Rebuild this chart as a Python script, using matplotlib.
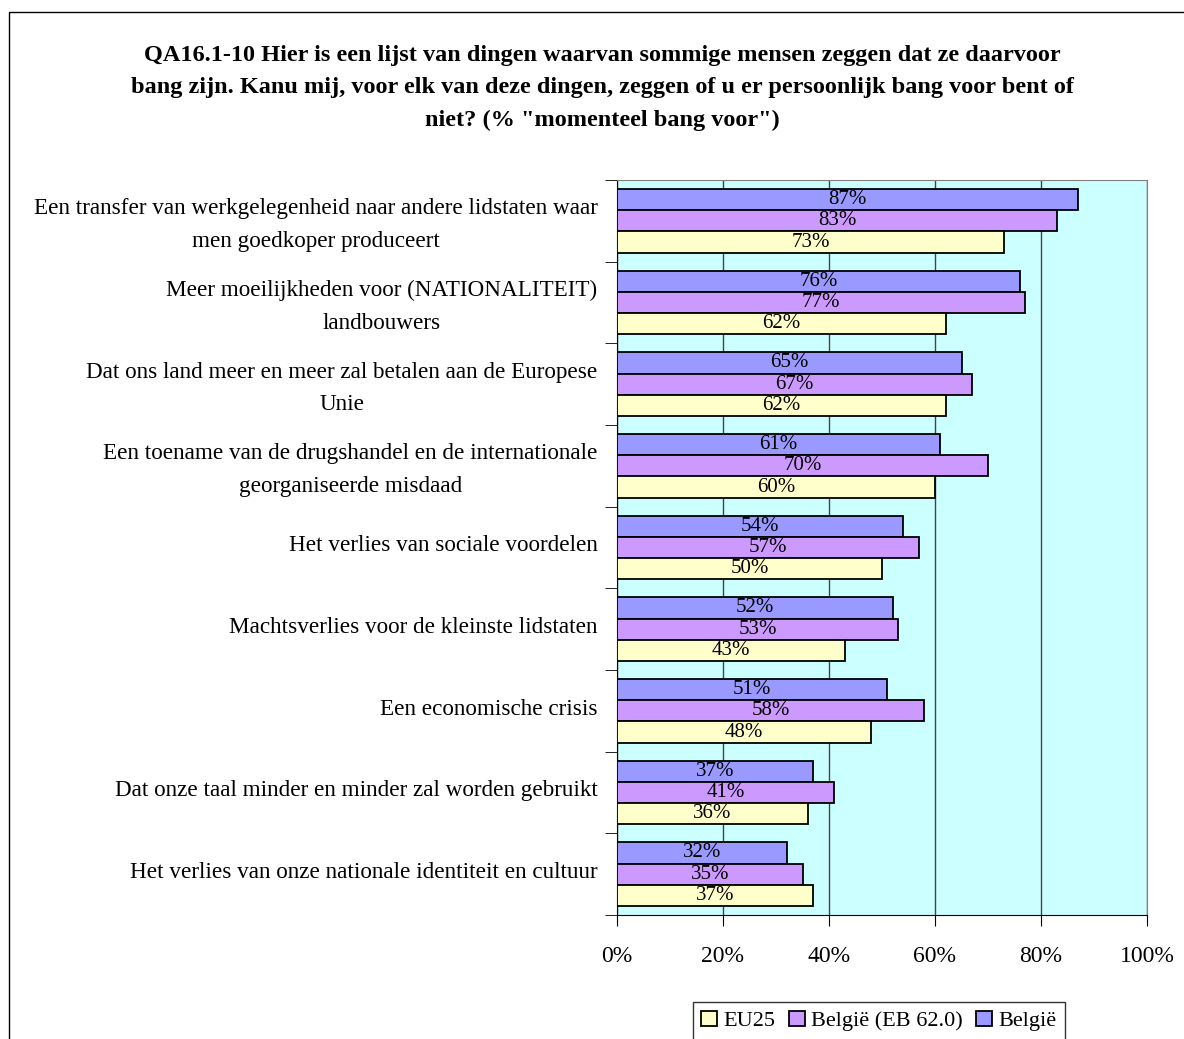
import matplotlib.pyplot as plt
import numpy as np
from matplotlib.patches import Rectangle

plt.rcParams['font.family'] = ['Liberation Serif', 'DejaVu Serif']

categories = [
    "Een transfer van werkgelegenheid naar andere lidstaten waar\nmen goedkoper produceert",
    "Meer moeilijkheden voor (NATIONALITEIT)\nlandbouwers",
    "Dat ons land meer en meer zal betalen aan de Europese\nUnie",
    "Een toename van de drugshandel en de internationale\ngeorganiseerde misdaad",
    "Het verlies van sociale voordelen",
    "Machtsverlies voor de kleinste lidstaten",
    "Een economische crisis",
    "Dat onze taal minder en minder zal worden gebruikt",
    "Het verlies van onze nationale identiteit en cultuur",
]
belgie = [87, 76, 65, 61, 54, 52, 51, 37, 32]
belgie_eb62 = [83, 77, 67, 70, 57, 53, 58, 41, 35]
eu25 = [73, 62, 62, 60, 50, 43, 48, 36, 37]

title = ("QA16.1-10 Hier is een lijst van dingen waarvan sommige mensen zeggen dat ze daarvoor\n"
         "bang zijn. Kanu mij, voor elk van deze dingen, zeggen of u er persoonlijk bang voor bent of\n"
         "niet? (% \"momenteel bang voor\")")

fig = plt.figure(figsize=(11.84, 10.39), dpi=100)
fig.patches.append(Rectangle((9 / 1184, -0.1), 1.2, 1 - 12 / 1039 + 0.1, transform=fig.transFigure,
                             fill=False, edgecolor='black', linewidth=1))
fig.text(602 / 1184, 1 - 88 / 1039, title, ha='center', va='center', fontsize=17.5,
         fontweight='bold', linespacing=1.72)

ax = fig.add_axes([617 / 1184, 1 - 915 / 1039, 530 / 1184, 735 / 1039])
ax.set_facecolor('#CCFFFF')

n = len(categories)
y = np.arange(n)[::-1].astype(float)
h = 0.26
series = [(belgie, '#9999FF', 'België', h), (belgie_eb62, '#CC99FF', 'België (EB 62.0)', 0),
          (eu25, '#FFFFCC', 'EU25', -h)]
handles = {}
for vals, col, lab, off in series:
    bars = ax.barh(y + off, vals, height=h, color=col, edgecolor='black', linewidth=1.3, label=lab,
                   zorder=3)
    handles[lab] = bars
    for v, yy in zip(vals, y + off):
        ax.text(v / 2, yy, f"{v}%", ha='center', va='center', fontsize=15, zorder=4)

ax.set_xlim(0, 100)
ax.set_ylim(-0.5, n - 0.5)
ax.set_xticks(range(0, 101, 20))
ax.set_xticklabels([f"{t}%" for t in range(0, 101, 20)], fontsize=17)
ax.tick_params(axis='x', length=8, pad=14, color='black')
ax.set_yticks(y + 0.05)
ax.set_yticklabels(categories, fontsize=16.7, multialignment='center', linespacing=1.72)
ax.tick_params(axis='y', which='major', length=0, pad=14)
ax.set_yticks(np.arange(-0.5, n, 1), minor=True)
ax.tick_params(axis='y', which='minor', length=9, color='black')
ax.grid(axis='x', color='#444444', linewidth=1, zorder=1)
for s in ax.spines.values():
    s.set_color('#808080')
ax.spines['left'].set_color('black')
ax.spines['bottom'].set_color('black')

leg = ax.legend([handles['EU25'], handles['België (EB 62.0)'], handles['België']],
                ['EU25', 'België (EB 62.0)', 'België'], ncol=3, loc='center',
                bbox_to_anchor=(879 / 1184, 1 - 1021 / 1039), bbox_transform=fig.transFigure,
                fontsize=16, frameon=True, fancybox=False, edgecolor='black',
                handlelength=0.7, handleheight=0.7, handletextpad=0.3, columnspacing=0.6,
                borderpad=0.4)
leg.get_frame().set_linewidth(1)

fig.savefig('out.png', dpi=100)
